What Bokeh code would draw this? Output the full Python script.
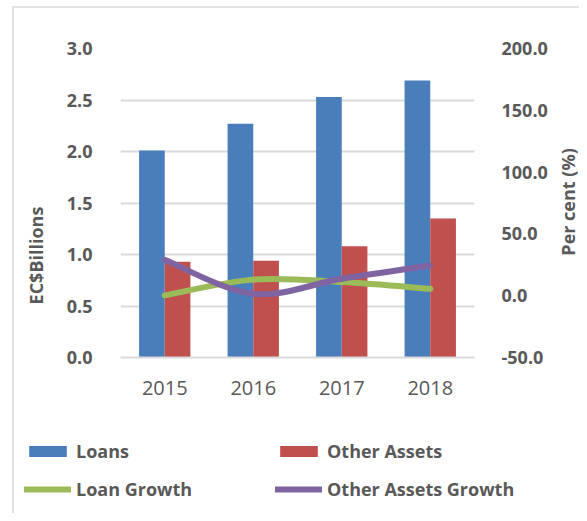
import numpy as np
from bokeh.plotting import figure
from bokeh.layouts import row, column
from bokeh.models import (Range1d, LinearAxis, FixedTicker, Legend, LegendItem,
                          Label, NumeralTickFormatter, ColumnDataSource)
from bokeh.embed import file_html
from bokeh.resources import INLINE

years = ["2015", "2016", "2017", "2018"]
loans = [2.01, 2.27, 2.53, 2.69]
other_assets = [0.93, 0.94, 1.08, 1.35]
loan_growth = [0.3, 13.0, 11.0, 5.6]
other_assets_growth = [29.0, 1.5, 13.7, 24.4]
left_ticks = [0.0, 0.5, 1.0, 1.5, 2.0, 2.5, 3.0]
right_ticks = [-50.0, 0.0, 50.0, 100.0, 150.0, 200.0]

BLUE = "#4A7EBB"
RED = "#C0504D"
GREEN = "#9BBB59"
PURPLE = "#8064A2"
TXT = "#595959"
BORDER = "#e3e3e3"
FONT = "Open Sans"

LABEL_W = 50
MAIN_W = 500
RIGHT_W = 29
MAIN_H = 412
TOTAL_W = LABEL_W + MAIN_W + RIGHT_W
LEG_H = 101

xs = np.arange(len(years)) + 0.5
bw = 0.29

# ---------------- main chart ----------------
p = figure(width=MAIN_W, height=MAIN_H, output_backend="svg",
           toolbar_location=None, x_range=Range1d(0, 4), y_range=Range1d(0, 3),
           min_border_left=120 - LABEL_W, min_border_right=MAIN_W - 354 - (120 - LABEL_W),
           min_border_top=48, min_border_bottom=55)
p.frame_width = 354
p.frame_height = 309
p.outline_line_color = None
p.border_fill_color = None
p.extra_y_ranges = {"pct": Range1d(-50, 200)}

p.vbar(x=xs - bw / 2, top=loans, width=bw, fill_color=BLUE, line_color=None)
p.vbar(x=xs + bw / 2, top=other_assets, width=bw, fill_color=RED, line_color=None)


def bezier_source(yvals):
    y = np.asarray(yvals, dtype=float)
    n = len(y)
    px = np.concatenate([[xs[0]], xs, [xs[-1]]])
    py = np.concatenate([[y[0]], y, [y[-1]]])
    d = {"x0": [], "y0": [], "x1": [], "y1": [], "cx0": [], "cy0": [], "cx1": [], "cy1": []}
    for i in range(n - 1):
        a = i + 1
        d["x0"].append(px[a]); d["y0"].append(py[a])
        d["x1"].append(px[a + 1]); d["y1"].append(py[a + 1])
        d["cx0"].append(px[a] + (px[a + 1] - px[a - 1]) / 6)
        d["cy0"].append(py[a] + (py[a + 1] - py[a - 1]) / 6)
        d["cx1"].append(px[a + 1] - (px[a + 2] - px[a]) / 6)
        d["cy1"].append(py[a + 1] - (py[a + 2] - py[a]) / 6)
    return ColumnDataSource(d)


bz = dict(x0="x0", y0="y0", x1="x1", y1="y1", cx0="cx0", cy0="cy0", cx1="cx1", cy1="cy1")
p.bezier(source=bezier_source(loan_growth), line_color=GREEN, line_width=6,
         line_cap="round", y_range_name="pct", **bz)
p.bezier(source=bezier_source(other_assets_growth), line_color=PURPLE, line_width=6,
         line_cap="round", y_range_name="pct", **bz)

xa = p.xaxis[0]
xa.ticker = FixedTicker(ticks=list(xs))
xa.major_label_overrides = {float(x): y for x, y in zip(xs, years)}
xa.major_label_text_font = FONT
xa.major_label_text_font_size = "20px"
xa.major_label_text_color = TXT
xa.major_tick_line_color = None
xa.minor_tick_line_color = None
xa.axis_line_color = "#d9d9d9"
xa.axis_line_width = 2
xa.major_label_standoff = 17

ya = p.yaxis[0]
ya.ticker = FixedTicker(ticks=left_ticks)
ya.formatter = NumeralTickFormatter(format="0.0")
ya.major_label_text_font = FONT
ya.major_label_text_font_size = "18px"
ya.major_label_text_font_style = "bold"
ya.major_label_text_color = TXT
ya.major_tick_line_color = None
ya.minor_tick_line_color = None
ya.axis_line_color = None
ya.major_label_standoff = 22

ra = LinearAxis(y_range_name="pct", ticker=FixedTicker(ticks=right_ticks),
                formatter=NumeralTickFormatter(format="0.0"))
ra.major_label_text_font = FONT
ra.major_label_text_font_size = "18px"
ra.major_label_text_font_style = "bold"
ra.major_label_text_color = TXT
ra.major_tick_line_color = None
ra.minor_tick_line_color = None
ra.axis_line_color = None
ra.major_label_standoff = 21
p.add_layout(ra, "right")

p.xgrid.grid_line_color = None
p.ygrid.grid_line_color = "#d9d9d9"
p.ygrid.grid_line_width = 2
p.ygrid.ticker = FixedTicker(ticks=left_ticks)


def strip(w, h, y_range):
    f = figure(width=w, height=h, output_backend="svg", toolbar_location=None,
               x_range=Range1d(0, w), y_range=y_range,
               min_border=0, x_axis_location=None, y_axis_location=None)
    f.outline_line_color = None
    f.grid.visible = False
    f.border_fill_color = None
    f.background_fill_color = None
    return f


label_style = dict(angle=np.pi / 2, text_align="center", text_baseline="middle",
                   text_font=FONT, text_font_size="18px", text_font_style="bold",
                   text_color=TXT)

# left axis title (shares the left value scale)
lf = strip(LABEL_W, MAIN_H, p.y_range)
lf.add_layout(Label(x=35, y=0.99, text="EC$Billions", **label_style))

# right axis title
rf = strip(RIGHT_W, MAIN_H, p.y_range)
rf.add_layout(Label(x=17, y=1.51, text="Per cent (%)", **label_style))

# ---------------- legend strip ----------------
gf = strip(TOTAL_W, LEG_H, Range1d(0, LEG_H))
g_loans = gf.vbar(x=[-500], top=[-500], width=1, fill_color=BLUE, line_color=None)
g_other = gf.vbar(x=[-500], top=[-500], width=1, fill_color=RED, line_color=None)
g_lg = gf.line(x=[-500, -499], y=[-500, -500], line_color=GREEN, line_width=6, line_cap="round")
g_og = gf.line(x=[-500, -499], y=[-500, -500], line_color=PURPLE, line_width=6, line_cap="round")


def mk_legend(items, loc):
    lg = Legend(items=items, location=loc, orientation="vertical",
                border_line_color=None, background_fill_alpha=0,
                padding=0, margin=0, spacing=12, glyph_width=47, glyph_height=14,
                label_height=26, label_standoff=5,
                label_text_font=FONT, label_text_font_size="18px",
                label_text_font_style="bold", label_text_color=TXT)
    gf.add_layout(lg, "center")


mk_legend([LegendItem(label="Loans", renderers=[g_loans]),
           LegendItem(label="Loan Growth", renderers=[g_lg])], (24, 11))
mk_legend([LegendItem(label="Other Assets", renderers=[g_other]),
           LegendItem(label="Other Assets Growth", renderers=[g_og])], (275, 11))

frame_css = {
    "background-image": f"linear-gradient({BORDER}, {BORDER}), linear-gradient({BORDER}, {BORDER})",
    "background-size": "2px 600px, 700px 2px",
    "background-position": "12px 6px, 12px 6px",
    "background-repeat": "no-repeat, no-repeat",
}
layout = column(row(lf, p, rf, spacing=0), gf, spacing=0, styles=frame_css)
open("out.html", "w").write(file_html(layout, INLINE))
